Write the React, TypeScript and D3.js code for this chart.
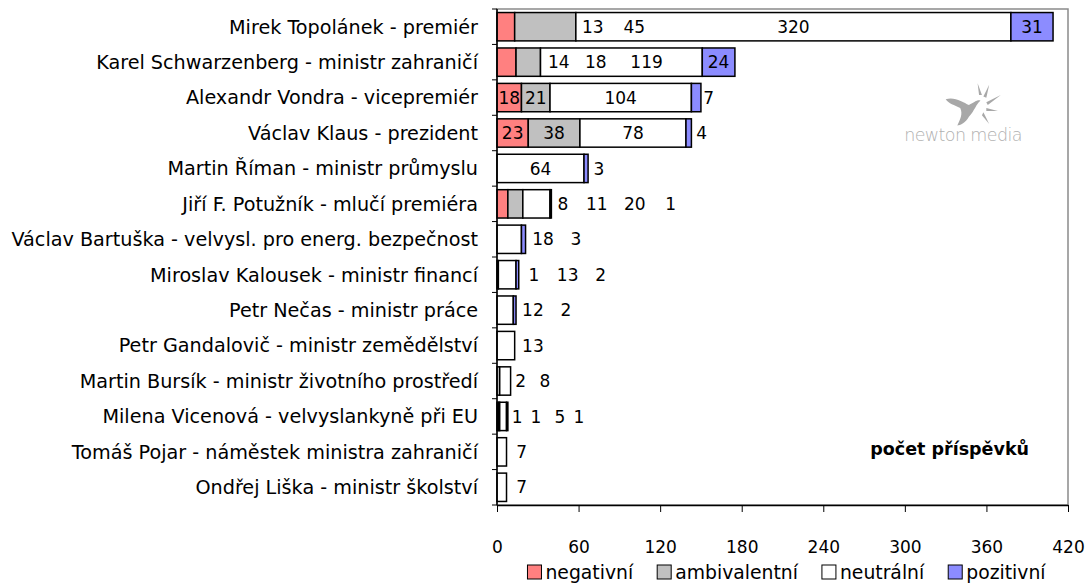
import React, { useEffect, useRef } from 'react';
import * as d3 from 'd3';

// categories (top to bottom)
const names = [
  'Mirek Topolánek - premiér',
  'Karel Schwarzenberg - ministr zahraničí',
  'Alexandr Vondra - vicepremiér',
  'Václav Klaus - prezident',
  'Martin Říman - ministr průmyslu',
  'Jiří F. Potužník - mlučí premiéra',
  'Václav Bartuška - velvysl. pro energ. bezpečnost',
  'Miroslav Kalousek - ministr financí',
  'Petr Nečas - ministr práce',
  'Petr Gandalovič - ministr zemědělství',
  'Martin Bursík - ministr životního prostředí',
  'Milena Vicenová - velvyslankyně při EU',
  'Tomáš Pojar - náměstek ministra zahraničí',
  'Ondřej Liška - ministr školství',
];

const negativni = [13, 14, 18, 23, 0, 8, 0, 0, 0, 0, 0, 1, 0, 0];
const ambivalentni = [45, 18, 21, 38, 0, 11, 0, 1, 0, 0, 2, 1, 0, 0];
const neutralni = [320, 119, 104, 78, 64, 20, 18, 13, 12, 13, 8, 5, 7, 7];
const pozitivni = [31, 24, 7, 4, 3, 1, 3, 2, 2, 0, 0, 1, 0, 0];

const seriesNames = ['negativní', 'ambivalentní', 'neutrální', 'pozitivní'];
const seriesColors = ['#ff8080', '#c0c0c0', '#ffffff', '#8c8cff'];

// where the value labels sit (in axis units), one per non-zero segment
const labelX = [
  [70.5, 101, 218, 393.5],
  [45.5, 72.7, 110, 163],
  [9, 28.5, 91, 155.6],
  [11.5, 42, 100, 150.5],
  [32, 75],
  [48.4, 73.4, 101.3, 127.7],
  [33.8, 58],
  [27.2, 52, 76.3],
  [26.4, 50.6],
  [26.4],
  [17.4, 35.2],
  [14.9, 28.6, 46.2, 60.2],
  [18.1],
  [18.1],
];

const xTicks = [0, 60, 120, 180, 240, 300, 360, 420];

const FONT = 'DejaVu Sans, Verdana, sans-serif';

const App = () => {
  const svgRef = useRef(null);

  useEffect(() => {
    document.body.style.margin = '0';
    const width = 1087;
    const height = 584;
    const margin = { top: 9, right: 19, bottom: 79, left: 497 };

    const svg = d3.select(svgRef.current);
    svg.selectAll('*').remove();
    svg.attr('width', width).attr('height', height);

    svg.append('rect').attr('width', width).attr('height', height).attr('fill', '#fff');

    const x = d3.scaleLinear().domain([0, 420]).range([margin.left, width - margin.right]);
    const y = d3.scaleBand()
      .domain(names)
      .range([margin.top, height - margin.bottom])
      .paddingInner(0.2)
      .paddingOuter(0.1);

    // plot frame
    svg.append('rect')
      .attr('x', x(0))
      .attr('y', margin.top)
      .attr('width', x(420) - x(0))
      .attr('height', height - margin.bottom - margin.top)
      .attr('fill', 'none')
      .attr('stroke', '#8a8a8a')
      .attr('stroke-width', 1.5);

    // logo
    const logo = svg.append('g').attr('transform', 'translate(966,108) scale(1.45)').attr('fill', '#a8a8a8');
    logo.append('path')
      .attr('d', 'M-14,-6 C-8,-8 -2,-4 2,-2 C6,-4 8,-6 10,-5 C7,-3 6,2 2,6 C0,10 -4,12 -6,12 C-4,8 -2,4 -4,0 C-8,-2 -12,-3 -14,-6 Z');
    logo.append('path').attr('d', 'M12,-8 L16,-16 L14,-7 Z');
    logo.append('path').attr('d', 'M14,-4 L24,-9 L15,-2 Z');
    logo.append('path').attr('d', 'M14,0 L22,2 L14,2 Z');
    logo.append('path').attr('d', 'M12,3 L16,11 L11,5 Z');
    logo.append('path').attr('d', 'M9,-9 L8,-17 L11,-9 Z');
    svg.append('text')
      .attr('x', 963)
      .attr('y', 141)
      .attr('text-anchor', 'middle')
      .attr('font-family', FONT)
      .attr('font-size', 17.5)
      .attr('font-weight', 300)
      .attr('fill', '#b0b0b0')
      .attr('letter-spacing', '-0.6')
      .text('newton media');

    const series = [negativni, ambivalentni, neutralni, pozitivni];

    names.forEach((name, i) => {
      let acc = 0;
      const segs: any[] = [];
      series.forEach((s, k) => {
        const v = s[i];
        if (v > 0) segs.push({ x0: acc, x1: acc + v, v, k });
        acc += v;
      });
      const row = svg.append('g');
      row.selectAll('rect')
        .data(segs)
        .enter()
        .append('rect')
        .attr('x', d => x(d.x0))
        .attr('y', y(name))
        .attr('width', d => x(d.x1) - x(d.x0))
        .attr('height', y.bandwidth())
        .attr('fill', d => seriesColors[d.k])
        .attr('stroke', '#000')
        .attr('stroke-width', 1.5);

      row.selectAll('text.val')
        .data(segs)
        .enter()
        .append('text')
        .attr('class', 'val')
        .attr('x', (d, j) => x(labelX[i][j]))
        .attr('y', y(name) + y.bandwidth() / 2)
        .attr('dy', '0.36em')
        .attr('text-anchor', 'middle')
        .attr('font-family', FONT)
        .attr('font-size', 17)
        .attr('fill', '#000')
        .text(d => d.v);

      svg.append('text')
        .attr('x', 478)
        .attr('y', y(name) + y.bandwidth() / 2)
        .attr('dy', '0.36em')
        .attr('text-anchor', 'end')
        .attr('font-family', FONT)
        .attr('font-size', 19.2)
        .attr('fill', '#000')
        .text(name);
    });

    // category axis
    const step = y.step();
    svg.append('line')
      .attr('x1', x(0)).attr('x2', x(0))
      .attr('y1', margin.top).attr('y2', height - margin.bottom)
      .attr('stroke', '#000').attr('stroke-width', 1.5);
    d3.range(names.length + 1).forEach(i => {
      const yy = margin.top + i * step;
      svg.append('line')
        .attr('x1', x(0) - 5).attr('x2', x(0))
        .attr('y1', yy).attr('y2', yy)
        .attr('stroke', '#000').attr('stroke-width', 1);
    });

    // value axis
    const xAxis = svg.append('g')
      .attr('transform', `translate(0,${height - margin.bottom})`)
      .call(d3.axisBottom(x).tickValues(xTicks).tickSize(7).tickSizeOuter(0).tickFormat(d3.format('d')));
    xAxis.select('.domain').attr('stroke', '#000').attr('stroke-width', 1.5);
    xAxis.selectAll('.tick line').attr('stroke', '#000').attr('stroke-width', 1);
    xAxis.selectAll('.tick text')
      .attr('y', 48)
      .attr('dy', 0)
      .attr('font-family', FONT)
      .attr('font-size', 17)
      .attr('fill', '#000');

    // axis title
    svg.append('text')
      .attr('x', 1029)
      .attr('y', 455)
      .attr('text-anchor', 'end')
      .attr('font-family', FONT)
      .attr('font-size', 17.5)
      .attr('font-weight', 'bold')
      .attr('fill', '#000')
      .text('počet příspěvků');

    // legend
    const legend = svg.append('g');
    let lx = 0;
    const items = legend.selectAll('g')
      .data(seriesNames)
      .enter()
      .append('g');
    items.each(function (d, k) {
      const g = d3.select(this);
      g.append('rect')
        .attr('x', 0).attr('y', -7)
        .attr('width', 14).attr('height', 14)
        .attr('fill', seriesColors[k])
        .attr('stroke', '#000').attr('stroke-width', 1);
      const t = g.append('text')
        .attr('x', 18)
        .attr('y', 0)
        .attr('dy', '0.36em')
        .attr('font-family', FONT)
        .attr('font-size', 18.8)
        .attr('fill', '#000')
        .text(d);
      g.attr('transform', `translate(${lx},0)`);
      lx += 18 + (t.node() as any).getComputedTextLength() + 24;
    });
    const total = lx - 24;
    legend.attr('transform', `translate(${(x(0) + x(420)) / 2 - total / 2 + 4},572)`);
  }, []);

  return <svg ref={svgRef} style={{ display: 'block' }}></svg>;
};

export default App;
